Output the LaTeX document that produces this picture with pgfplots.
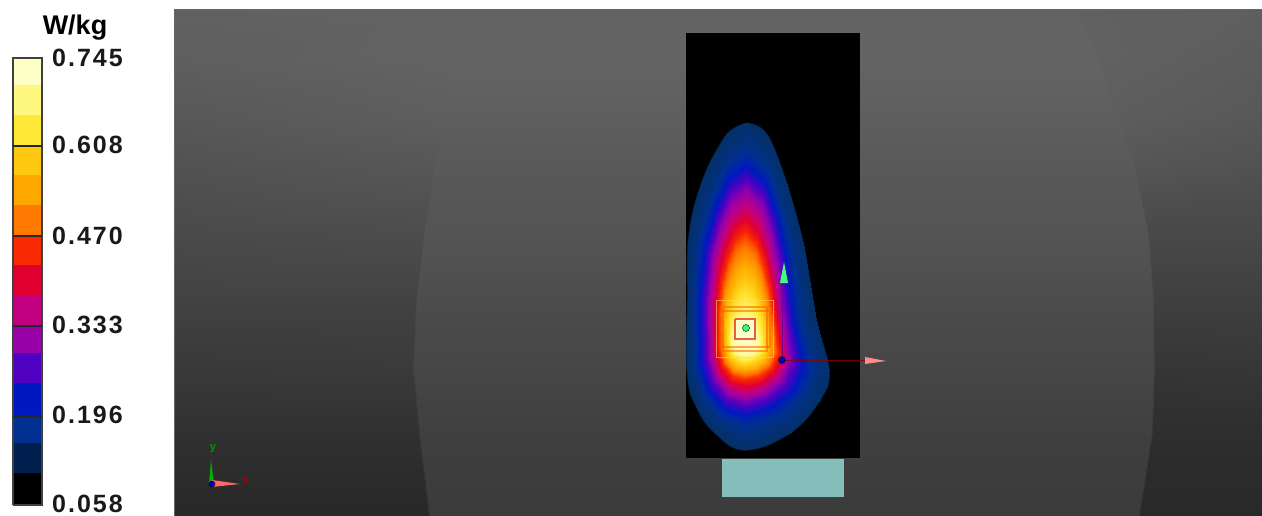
\documentclass[border=0pt]{standalone}
\usepackage{fontspec}
\setmainfont{Liberation Sans}
\newfontfamily\lab[LetterSpace=8]{Liberation Sans}
\usepackage{pgfplots}
\pgfplotsset{compat=1.18}

% colour bar bands, bottom to top
\definecolor{c0}{HTML}{000000}
\definecolor{c1}{HTML}{02204F}
\definecolor{c1h}{HTML}{04306A}
\definecolor{c2}{HTML}{003090}
\definecolor{c3}{HTML}{0018C0}
\definecolor{c4}{HTML}{5000C0}
\definecolor{c5}{HTML}{9800A8}
\definecolor{c6}{HTML}{C00080}
\definecolor{c7}{HTML}{E00030}
\definecolor{c8}{HTML}{F82800}
\definecolor{c9}{HTML}{FF7800}
\definecolor{c10}{HTML}{FFA800}
\definecolor{c11}{HTML}{FFC810}
\definecolor{c12}{HTML}{FFE838}
\definecolor{c13}{HTML}{FFF880}
\definecolor{c14}{HTML}{FFFFC8}
\definecolor{phantom}{HTML}{85BDBB}

\pgfplotsset{
  solid box/.style={draw=none, fill=#1, forget plot},
  sq/.style={draw=#1, no markers, sharp plot, forget plot},
}

\begin{document}
\begin{tikzpicture}
\path (0,0) rectangle (1262pt,516pt);
\begin{axis}[
    at={(0,0)}, anchor=south west,
    width=1262pt, height=516pt, scale only axis,
    hide axis,
    xmin=0, xmax=1262, ymin=0, ymax=516,
    y dir=reverse,
    colormap={grays}{gray(0cm)=(.155); gray(1cm)=(.39)},
    colormap={sar}{color(1cm)=(c1h) color(2cm)=(c2) color(3cm)=(c3) color(4cm)=(c4) color(5cm)=(c5) color(6cm)=(c6) color(7cm)=(c7) color(8cm)=(c8) color(9cm)=(c9) color(10cm)=(c10) color(11cm)=(c11) color(12cm)=(c12) color(13cm)=(c13) color(14cm)=(c14)},
    point meta rel=per plot,
    clip=true,
]
% background
\addplot[surf, colormap name=grays, shader=interp, mesh/rows=9, mesh/cols=6, point meta=\thisrow{c}, forget plot] table {
x y c
174 10 .38
490 10 .39
492 10 .39
1075 10 .39
1077 10 .38
1262 10 .37
174 60 .37
465 60 .39
467 60 .39
1098 60 .39
1100 60 .38
1262 60 .36
174 117 .345
447 117 .37
449 117 .37
1117 117 .37
1119 117 .365
1262 117 .345
174 167 .32
433 167 .34
435 167 .35
1133 167 .35
1135 167 .335
1262 167 .32
174 233 .29
423 233 .30
425 233 .33
1147 233 .33
1149 233 .285
1262 233 .285
174 300 .26
415 300 .26
417 300 .30
1152 300 .30
1154 300 .25
1262 300 .25
174 367 .225
412 367 .23
414 367 .275
1153 367 .275
1155 367 .21
1262 367 .215
174 433 .19
418 433 .19
420 433 .25
1151 433 .25
1153 433 .18
1262 433 .18
174 516 .155
428 516 .155
430 516 .23
1138 516 .23
1140 516 .16
1262 516 .16
};
\addplot[draw=black!60, line width=1pt, forget plot] coordinates {(174,516) (174,10) (1262,10)};

% phantom and measurement area
\addplot[solid box=phantom] coordinates {(722,459) (844,459) (844,497) (722,497)} --cycle;
\addplot[solid box=black] coordinates {(686,33) (860,33) (860,458) (686,458)} --cycle;

% SAR distribution: rings of equal level, outer to inner
\addplot[draw=c1h, draw opacity=.5, line width=1.5pt, fill=c1h, smooth, tension=0.7, forget plot] coordinates {(747,123) (762,129) (773,146) (787,185) (803,243) (816,320) (829,370) (820,400) (790,433) (745,450) (715,433) (697,408) (687.5,375) (687.5,300) (689,235) (702,182) (721,143) (733,129) (747,123)};
\addplot[surf, colormap name=sar, shader=interp, mesh/rows=15, mesh/cols=17, point meta=explicit, forget plot] coordinates {
(747,123) [1] (772,146) [1] (787,185) [1] (803,243) [1] (816,320) [1] (829,370) [1] (820,400) [1] (790,433) [1] (745,450) [1] (715,433) [1] (697,408) [1] (687.5,375) [1] (687.5,300) [1] (689,235) [1] (702,182) [1] (722,143) [1] (747,123) [1]
(746.5,140) [1.5] (769,161) [1.5] (782,198) [1.5] (795,246) [1.5] (806,320) [1.5] (818,369) [1.5] (808.5,396) [1.5] (782.5,421.5) [1.5] (745,435) [1.5] (718.5,422.5) [1.5] (701.5,400) [1.5] (692,370) [1.5] (691.5,300) [1.5] (695,240) [1.5] (708,193.5) [1.5] (725,157) [1.5] (746.5,140) [1.5]
(746,158) [2.5] (767,178) [2.5] (778,210) [2.5] (787,250) [2.5] (796,320) [2.5] (807,368) [2.5] (797,392) [2.5] (775,410) [2.5] (745,420) [2.5] (722,412) [2.5] (706,392) [2.5] (698,365) [2.5] (697,300) [2.5] (702,245) [2.5] (713,205) [2.5] (727,173) [2.5] (746,158) [2.5]
(746,171.5) [3.5] (765,190) [3.5] (775,220) [3.5] (783,257.5) [3.5] (791,322.5) [3.5] (799,365) [3.5] (789.5,387) [3.5] (770,403) [3.5] (745,411) [3.5] (724.5,404) [3.5] (710,386) [3.5] (703,361.5) [3.5] (702,300) [3.5] (706.5,250) [3.5] (716,215) [3.5] (729,186) [3.5] (746,171.5) [3.5]
(746,185) [4.5] (763,202) [4.5] (772,230) [4.5] (779,265) [4.5] (786,325) [4.5] (791,362) [4.5] (782,382) [4.5] (765,396) [4.5] (745,402) [4.5] (727,396) [4.5] (714,380) [4.5] (708,358) [4.5] (707,300) [4.5] (711,255) [4.5] (719,225) [4.5] (730,198) [4.5] (746,185) [4.5]
(745.8,198) [5.5] (761,214) [5.5] (769,240) [5.5] (776,272) [5.5] (783,326) [5.5] (787.2,359.5) [5.5] (779,378) [5.5] (763.2,390.5) [5.5] (745,396) [5.5] (728.5,390.5) [5.5] (716.5,376) [5.5] (711,356) [5.5] (710.2,302.5) [5.5] (714,262.5) [5.5] (721,235) [5.5] (731,211) [5.5] (745.8,198) [5.5]
(745.5,211.5) [6.5] (759,226) [6.5] (767,249) [6.5] (773,278.5) [6.5] (780,327.5) [6.5] (783.5,357) [6.5] (776,374) [6.5] (761.5,385) [6.5] (745,389.5) [6.5] (730,385) [6.5] (719,372) [6.5] (714,354) [6.5] (713.5,305) [6.5] (717,270) [6.5] (723,245) [6.5] (732,223) [6.5] (745.5,211.5) [6.5]
(745.2,225) [7.5] (757,238) [7.5] (764.5,258.5) [7.5] (770.5,285) [7.5] (777,329) [7.5] (779.8,354.5) [7.5] (773,370) [7.5] (759.8,379.5) [7.5] (745,383) [7.5] (731.5,379.5) [7.5] (721.5,368) [7.5] (717,352) [7.5] (716.8,307.5) [7.5] (719.5,277.5) [7.5] (725.5,255) [7.5] (733.5,235) [7.5] (745.2,225) [7.5]
(745,238) [8.5] (755.5,249) [8.5] (762,268) [8.5] (767.5,292) [8.5] (774,330) [8.5] (776,352) [8.5] (770,366) [8.5] (758,374) [8.5] (745,377) [8.5] (733,374) [8.5] (724,364) [8.5] (720,350) [8.5] (720,310) [8.5] (722.5,285) [8.5] (728,265) [8.5] (735,247) [8.5] (745,238) [8.5]
(745,254.8) [9.5] (754.5,264) [9.5] (760.5,280.4) [9.5] (765.5,301) [9.5] (770.8,332.6) [9.5] (772.2,351.2) [9.5] (766.8,363) [9.5] (756.4,369.8) [9.5] (745,372.4) [9.5] (734.4,369.8) [9.5] (726.4,361.4) [9.5] (722.6,349.4) [9.5] (722.4,316.4) [9.5] (725,295) [9.5] (730,277.8) [9.5] (736,262.5) [9.5] (745,254.8) [9.5]
(745,271.6) [10.5] (753.5,279) [10.5] (759,292.8) [10.5] (763.5,310) [10.5] (767.6,335.2) [10.5] (768.4,350.4) [10.5] (763.6,360) [10.5] (754.8,365.6) [10.5] (745,367.8) [10.5] (735.8,365.6) [10.5] (728.8,358.8) [10.5] (725.2,348.8) [10.5] (724.8,322.8) [10.5] (727.2,305) [10.5] (731.7,290.6) [10.5] (737,278) [10.5] (745,271.6) [10.5]
(745,288.4) [11.5] (752.5,294.5) [11.5] (757.5,305.2) [11.5] (761.5,319) [11.5] (764.4,337.8) [11.5] (764.6,349.6) [11.5] (760.4,357) [11.5] (753.2,361.4) [11.5] (745,363.2) [11.5] (737.2,361.4) [11.5] (731.2,356.2) [11.5] (727.8,348.2) [11.5] (727.2,329.2) [11.5] (729.4,315) [11.5] (733.4,303.4) [11.5] (738,293) [11.5] (745,288.4) [11.5]
(745,305.2) [12.5] (751.5,310) [12.5] (756,317.6) [12.5] (759.3,328) [12.5] (761.2,340.4) [12.5] (760.8,348.8) [12.5] (757.2,354) [12.5] (751.6,357.2) [12.5] (745,358.6) [12.5] (738.6,357.2) [12.5] (733.6,353.6) [12.5] (730.4,347.6) [12.5] (729.6,335.6) [12.5] (731.6,325) [12.5] (735,316.2) [12.5] (739.5,308.8) [12.5] (745,305.2) [12.5]
(745,322) [13.5] (750,325) [13.5] (754,330) [13.5] (757,337) [13.5] (758,343) [13.5] (757,348) [13.5] (754,351) [13.5] (750,353) [13.5] (745,354) [13.5] (740,353) [13.5] (736,351) [13.5] (733,347) [13.5] (732,342) [13.5] (734,335) [13.5] (737,329) [13.5] (741,324) [13.5] (745,322) [13.5]
(745,340) [14] (745,340) [14] (745,340) [14] (745,340) [14] (745,340) [14] (745,340) [14] (745,340) [14] (745,340) [14] (745,340) [14] (745,340) [14] (745,340) [14] (745,340) [14] (745,340) [14] (745,340) [14] (745,340) [14] (745,340) [14] (745,340) [14]
};

% zoom cube squares
\addplot[sq=c11!70!white, line width=1pt, opacity=.6] coordinates {(716,300) (773,300) (773,357) (716,357) (716,300)};
\addplot[sq=c8!75!yellow, line width=1.2pt, opacity=.55] coordinates {(723,307) (767,307) (767,351) (723,351) (723,307)};
\addplot[sq=c8!75!yellow, line width=1.2pt, opacity=.55] coordinates {(720,311) (770,311) (770,347) (720,347) (720,311)};
\addplot[solid box=c14] coordinates {(735,319) (755,319) (755,339) (735,339)} --cycle;
\addplot[sq=c7!85!yellow, line width=2pt, opacity=.75] coordinates {(735,319) (755,319) (755,339) (735,339) (735,319)};
\addplot[only marks, mark=*, mark size=3.5pt, mark options={draw=none, fill=green!60!cyan!85!white}, forget plot] coordinates {(746,328)};

% coordinate axes in the scan
\addplot[draw=violet!80!blue, line width=1pt, opacity=.8, forget plot] coordinates {(782,360) (782,280)};
\addplot[draw=red!55!black, line width=1pt, opacity=.8, forget plot] coordinates {(782,360) (866,360)};
\addplot[solid box=green!70!cyan!75!white] coordinates {(784,262) (788,283) (780,283)} --cycle;
\addplot[solid box=red!45!white] coordinates {(865,357) (886,361) (865,364)} --cycle;
\addplot[only marks, mark=*, mark size=3.5pt, mark options={draw=none, fill=blue!75!black}, forget plot] coordinates {(782,360)};

% small triad bottom left
\addplot[solid box=green!70!black] coordinates {(211,460) (214,484) (209,484)} --cycle;
\addplot[solid box=red!60!white] coordinates {(212,480) (240,484) (212,487)} --cycle;
\addplot[only marks, mark=*, mark size=3pt, mark options={draw=none, fill=blue!80!black}, forget plot] coordinates {(212,484)};
\node[text=green!60!black, font=\fontsize{11}{11}\selectfont\bfseries] at (axis cs:213,449) {y};
\node[text=red!65!black, font=\fontsize{11}{11}\selectfont\bfseries] at (axis cs:246,481) {x};

% colour bar
\addplot[solid box=c0] coordinates {(13,473) (42,473) (42,505) (13,505)} --cycle;
\addplot[solid box=c1] coordinates {(13,443) (42,443) (42,473) (13,473)} --cycle;
\addplot[solid box=c2] coordinates {(13,416) (42,416) (42,443) (13,443)} --cycle;
\addplot[solid box=c3] coordinates {(13,383) (42,383) (42,416) (13,416)} --cycle;
\addplot[solid box=c4] coordinates {(13,353) (42,353) (42,383) (13,383)} --cycle;
\addplot[solid box=c5] coordinates {(13,326) (42,326) (42,353) (13,353)} --cycle;
\addplot[solid box=c6] coordinates {(13,295) (42,295) (42,326) (13,326)} --cycle;
\addplot[solid box=c7] coordinates {(13,265) (42,265) (42,295) (13,295)} --cycle;
\addplot[solid box=c8] coordinates {(13,236) (42,236) (42,265) (13,265)} --cycle;
\addplot[solid box=c9] coordinates {(13,205) (42,205) (42,236) (13,236)} --cycle;
\addplot[solid box=c10] coordinates {(13,175) (42,175) (42,205) (13,205)} --cycle;
\addplot[solid box=c11] coordinates {(13,146) (42,146) (42,175) (13,175)} --cycle;
\addplot[solid box=c12] coordinates {(13,115) (42,115) (42,146) (13,146)} --cycle;
\addplot[solid box=c13] coordinates {(13,85) (42,85) (42,115) (13,115)} --cycle;
\addplot[solid box=c14] coordinates {(13,58) (42,58) (42,85) (13,85)} --cycle;
\addplot[draw=black!75, line width=1.5pt, forget plot] coordinates {(13,505) (13,58) (42,58) (42,505) (13,505)};
\addplot[draw=black!85, line width=1.5pt, forget plot] coordinates {(13,146) (42,146)};
\addplot[draw=black!85, line width=1.5pt, forget plot] coordinates {(13,236) (42,236)};
\addplot[draw=black!85, line width=1.5pt, forget plot] coordinates {(13,326) (42,326)};
\addplot[draw=black!85, line width=1.5pt, forget plot] coordinates {(13,416) (42,416)};

\node[anchor=center, font=\fontsize{27}{27}\selectfont\bfseries] at (axis cs:75,28) {W/kg};
\foreach \y/\t in {58/0.745, 145/0.608, 236/0.470, 325/0.333, 415/0.196, 504/0.058} {
  \edef\temp{\noexpand\node[anchor=west, inner sep=0pt, font=\noexpand\fontsize{25}{25}\noexpand\selectfont\noexpand\lab\noexpand\bfseries, text=black!90] at (axis cs:52,\y) {\t};}
  \temp
}
\end{axis}
\end{tikzpicture}
\end{document}
